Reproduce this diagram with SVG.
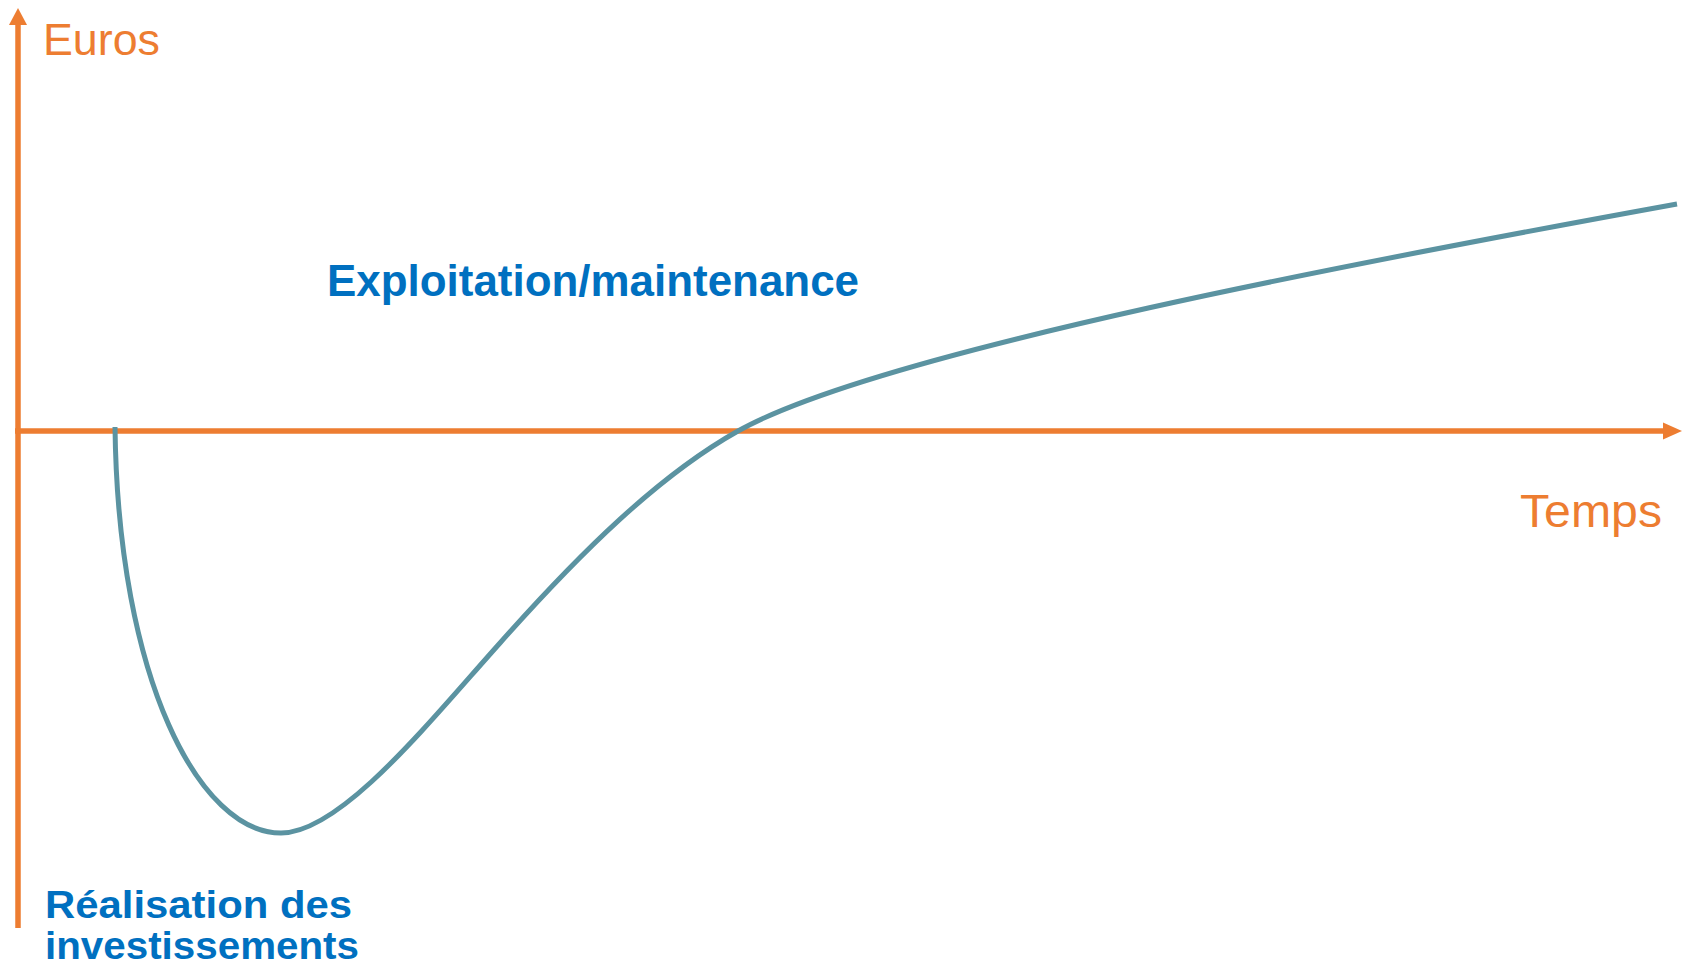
<svg xmlns="http://www.w3.org/2000/svg" width="1688" height="967" viewBox="0 0 1688 967">
<style>
.axis{stroke:#ED7D31;stroke-width:5.5;fill:none}
.head{fill:#ED7D31}
.curve{stroke:#5B93A1;stroke-width:5;fill:none}
.axlbl{font-family:"Liberation Sans",Arial,sans-serif;fill:#ED7D31}
.phase{font-family:"Liberation Sans",Arial,sans-serif;font-weight:bold;fill:#0070C0}
</style>
<rect width="1688" height="967" fill="#FFFFFF"/>
<g id="connectors">
<line class="axis" x1="18" y1="928" x2="18" y2="22"/>
<polygon class="head" points="18,8 27,25 9,25"/>
<line class="axis" x1="15" y1="431" x2="1666" y2="431"/>
<polygon class="head" points="1682,431 1663,422.5 1663,439.5"/>
<path class="curve" d="M115,427 C118,680 200,833 281,833 C341,833 430,721 500,643 C580,553 658,476 738,431 C880,351 1380,258 1677,204"/>
</g>
<g id="label-euros"><text class="axlbl" x="43" y="55" font-size="45" textLength="117" lengthAdjust="spacingAndGlyphs">Euros</text></g>
<g id="label-temps"><text class="axlbl" x="1520" y="527" font-size="47" textLength="142" lengthAdjust="spacingAndGlyphs">Temps</text></g>
<g id="label-exploitation"><text class="phase" x="327" y="296" font-size="44" textLength="532" lengthAdjust="spacingAndGlyphs">Exploitation/maintenance</text></g>
<g id="label-realisation">
<text class="phase" x="45" y="918" font-size="39" textLength="307" lengthAdjust="spacingAndGlyphs">Réalisation des</text>
<text class="phase" x="45" y="959" font-size="39" textLength="314" lengthAdjust="spacingAndGlyphs">investissements</text>
</g>
</svg>
